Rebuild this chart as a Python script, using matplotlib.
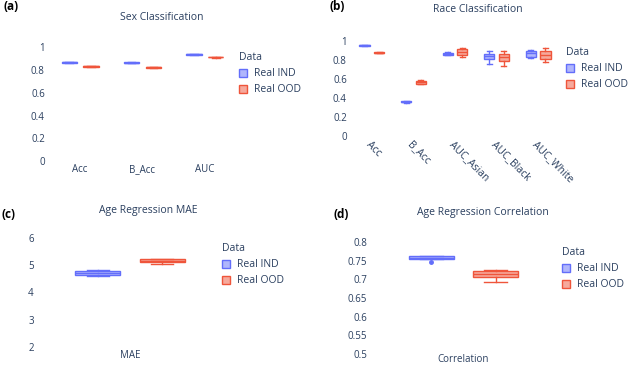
import numpy as np
import matplotlib
matplotlib.use("Agg")
import matplotlib.pyplot as plt
from matplotlib.patches import Patch

plt.rcParams['font.family'] = ['Open Sans', 'DejaVu Sans']

# Colores estilo plotly
c_ind = '#636efa'
c_ood = '#ef553b'
c_txt = '#2a3f5f'

# Datos: cada caja = [bigote_inf, q1, mediana, q3, bigote_sup]
sex_cats = ['Acc', 'B_Acc', 'AUC']
sex_ind = [[0.863, 0.866, 0.870, 0.874, 0.876],
           [0.860, 0.862, 0.866, 0.870, 0.872],
           [0.936, 0.938, 0.940, 0.943, 0.944]]
sex_ood = [[0.828, 0.830, 0.834, 0.838, 0.840],
           [0.820, 0.822, 0.826, 0.830, 0.832],
           [0.911, 0.913, 0.916, 0.918, 0.920]]

race_cats = ['Acc', 'B_Acc', 'AUC_Asian', 'AUC_Black', 'AUC_White']
race_ind = [[0.948, 0.951, 0.955, 0.958, 0.960],
            [0.352, 0.357, 0.361, 0.365, 0.372],
            [0.852, 0.858, 0.866, 0.874, 0.880],
            [0.760, 0.807, 0.840, 0.863, 0.900],
            [0.820, 0.835, 0.870, 0.898, 0.910]]
race_ood = [[0.871, 0.874, 0.877, 0.880, 0.883],
            [0.545, 0.552, 0.565, 0.580, 0.592],
            [0.830, 0.850, 0.880, 0.913, 0.930],
            [0.737, 0.793, 0.830, 0.860, 0.890],
            [0.776, 0.810, 0.855, 0.898, 0.923]]

mae_cats = ['MAE']
mae_ind = [[4.60, 4.64, 4.72, 4.80, 4.83]]
mae_ood = [[5.03, 5.10, 5.15, 5.21, 5.22]]

corr_cats = ['Correlation']
corr_ind = [[0.755, 0.756, 0.758, 0.762, 0.763]]
corr_ood = [[0.694, 0.706, 0.716, 0.724, 0.725]]
corr_ind_fliers = [[0.746]]


def stats(rows, fliers=None):
    out = []
    for i, r in enumerate(rows):
        out.append(dict(whislo=r[0], q1=r[1], med=r[2], q3=r[3], whishi=r[4],
                        fliers=fliers[i] if fliers else []))
    return out


def draw(ax, cats, ind, ood, ind_fliers=None):
    x = np.arange(len(cats))
    w = 0.245
    for data, pos, col, fl in [(ind, x - 0.175, c_ind, ind_fliers),
                               (ood, x + 0.175, c_ood, None)]:
        ax.bxp(stats(data, fl), positions=pos, widths=w, capwidths=w * 0.5,
               patch_artist=True, showfliers=True, manage_ticks=False,
               boxprops=dict(facecolor=col + '80', edgecolor=col, linewidth=1),
               medianprops=dict(color=col, linewidth=1),
               whiskerprops=dict(color=col, linewidth=1),
               capprops=dict(color=col, linewidth=1),
               flierprops=dict(marker='o', markersize=2.5, markerfacecolor=col,
                               markeredgecolor=col))
    ax.set_xlim(-0.5, len(cats) - 0.5)
    ax.set_xticks(x)
    ax.set_xticklabels(cats)
    for s in ax.spines.values():
        s.set_visible(False)
    ax.tick_params(length=0, labelsize=7, labelcolor=c_txt, pad=3)
    ax.tick_params(axis='x', pad=1)
    ax.yaxis.set_major_formatter(plt.FuncFormatter(lambda v, p: '{:g}'.format(round(v, 3))))


def leyenda(ax, x, y):
    h = [Patch(facecolor=c_ind + '80', edgecolor=c_ind),
         Patch(facecolor=c_ood + '80', edgecolor=c_ood)]
    lg = ax.legend(h, ['Real IND', 'Real OOD'], title='Data', loc='upper left',
                   bbox_to_anchor=(x / 640, 1 - y / 366), bbox_transform=fig.transFigure,
                   frameon=False, fontsize=7.5, title_fontsize=7.5, alignment='left',
                   handlelength=0.8, handleheight=0.8, handletextpad=0.6,
                   labelspacing=0.5, borderpad=0, borderaxespad=0)
    lg.get_title().set_color(c_txt)
    for t in lg.get_texts():
        t.set_color(c_txt)


fig = plt.figure(figsize=(6.4, 3.66), dpi=100)


def eje(l, r, t, b):
    return fig.add_axes([l / 640, 1 - b / 366, (r - l) / 640, (b - t) / 366])


# (a)
ax1 = eje(49, 236, 40, 163)
draw(ax1, sex_cats, sex_ind, sex_ood)
ax1.set_ylim(-0.018, 1.066)
ax1.set_yticks([0, 0.2, 0.4, 0.6, 0.8, 1])
leyenda(ax1, 239, 52)
fig.text(162 / 640, 1 - 18 / 366, 'Sex Classification', ha='center', va='center',
         fontsize=7.5, color=c_txt)
fig.text(4 / 640, 1 - 6 / 366, '(a)', ha='left', va='center', fontsize=8.5, fontweight='bold')

# (b)
ax2 = eje(351, 559, 30, 138)
draw(ax2, race_cats, race_ind, race_ood)
ax2.set_ylim(-0.021, 1.116)
ax2.set_yticks([0, 0.2, 0.4, 0.6, 0.8, 1])
for lab in ax2.get_xticklabels():
    lab.set_rotation(-45)
    lab.set_ha('left')
    lab.set_va('top')
    lab.set_rotation_mode('anchor')
    lab.set_fontsize(7.5)
leyenda(ax2, 566, 47)
fig.text(478 / 640, 1 - 9 / 366, 'Race Classification', ha='center', va='center',
         fontsize=7.5, color=c_txt)
fig.text(330 / 640, 1 - 6 / 366, '(b)', ha='left', va='center', fontsize=8.5, fontweight='bold')

# (c)
ax3 = eje(38, 222, 228, 349)
draw(ax3, mae_cats, mae_ind, mae_ood)
ax3.set_ylim(1.92, 6.36)
ax3.set_yticks([2, 3, 4, 5, 6])
leyenda(ax3, 222, 243)
fig.text(148 / 640, 1 - 211 / 366, 'Age Regression MAE', ha='center', va='center',
         fontsize=7.5, color=c_txt)
fig.text(2 / 640, 1 - 214 / 366, '(c)', ha='left', va='center', fontsize=8.5, fontweight='bold')

# (d)
ax4 = eje(371.5, 555.5, 232, 354)
draw(ax4, corr_cats, corr_ind, corr_ood, corr_ind_fliers)
ax4.set_ylim(0.499, 0.828)
ax4.set_yticks([0.5, 0.55, 0.6, 0.65, 0.7, 0.75, 0.8])
ax4.tick_params(axis='x', pad=0)
leyenda(ax4, 562, 247)
fig.text(483 / 640, 1 - 213 / 366, 'Age Regression Correlation', ha='center', va='center',
         fontsize=7.5, color=c_txt)
fig.text(334 / 640, 1 - 214 / 366, '(d)', ha='left', va='center', fontsize=8.5, fontweight='bold')

plt.savefig('out.png', dpi=100)
